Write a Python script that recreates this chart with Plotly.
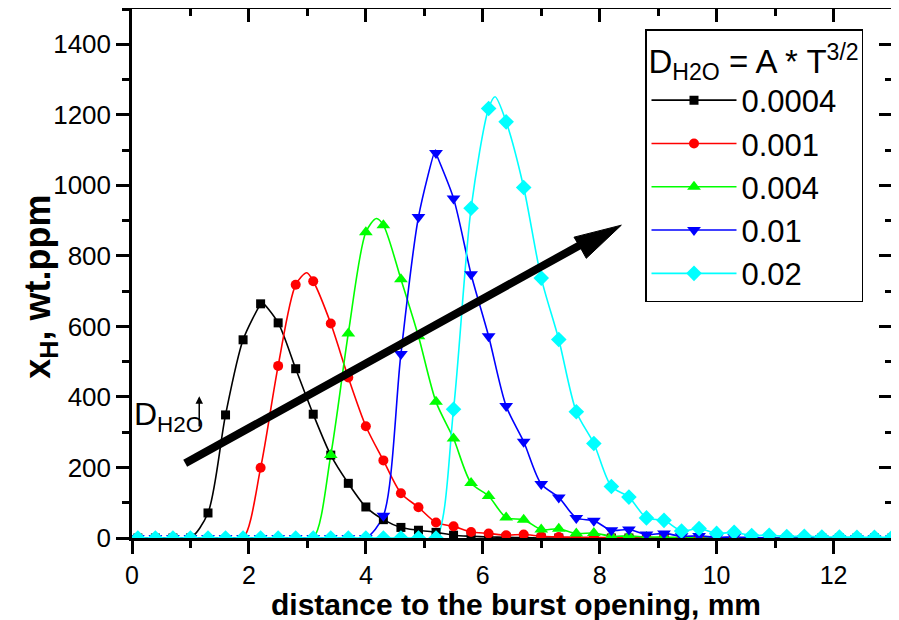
import plotly.graph_objects as go

# ---- data ----
x_grid = [0.1, 0.4, 0.7, 1.0, 1.3, 1.6, 1.9, 2.2, 2.5, 2.8, 3.1, 3.4, 3.7, 4.0, 4.3,
          4.6, 4.9, 5.2, 5.5, 5.8, 6.1, 6.4, 6.7, 7.0, 7.3, 7.6, 7.9, 8.2, 8.5, 8.8,
          9.1, 9.4, 9.7, 10.0, 10.3, 10.6, 10.9, 11.2, 11.5, 11.8, 12.1, 12.4, 12.7, 13.0]

y_00004 = [0, 0, 0, 0, 71, 349, 562, 664, 610, 480, 351, 235, 155, 88, 52,
           30, 22, 16, 8, 5, 3, 2, 1, 0, 0, 0, 0, 0, 0, 0,
           0, 0, 0, 0, 0, 0, 0, 0, 0, 0, 0, 0, 0, 0]
y_0001 = [0, 0, 0, 0, 0, 0, 0, 199, 488, 718, 728, 608, 455, 317, 220,
          127, 87, 44, 33, 17, 13, 8, 10, 5, 3, 2, 2, 1, 0, 0,
          0, 0, 0, 0, 0, 0, 0, 0, 0, 0, 0, 0, 0, 0]
y_0004 = [0, 0, 0, 0, 0, 0, 0, 0, 0, 0, 0, 235, 580, 867, 887,
          734, 572, 386, 282, 156, 119, 58, 52, 24, 26, 13, 14, 5, 6, 3,
          3, 1, 0, 0, 0, 0, 0, 0, 0, 0, 0, 0, 0, 0]
y_001 = [0, 0, 0, 0, 0, 0, 0, 0, 0, 0, 0, 0, 0, 0, 63,
         522, 910, 1092, 963, 748, 572, 374, 273, 153, 115, 57, 49, 22, 24, 10,
         13, 5, 6, 2, 3, 1, 0, 0, 0, 0, 0, 0, 0, 0]
y_002 = [0, 0, 0, 0, 0, 0, 0, 0, 0, 0, 0, 0, 0, 0, 0,
         0, 0, 0, 365, 935, 1218, 1180, 994, 737, 563, 358, 268, 146, 116, 57,
         50, 20, 27, 13, 16, 7, 8, 4, 5, 3, 3, 2, 2, 2]

# curve maxima (between symbols)
peak_x = [2.22, 2.99, 4.18, 5.19, 6.21]
peak_y = [668, 752, 906, 1100, 1251]

series_names = ["0.0004", "0.001", "0.004", "0.01", "0.02"]
series_y = [y_00004, y_0001, y_0004, y_001, y_002]
colors = ["#000000", "#ff0000", "#00ff00", "#0000ff", "#00ffff"]
symbols = ["square", "circle", "triangle-up", "triangle-down", "diamond"]
msizes = [9, 10, 12, 12, 12]

x_ticks = [0, 2, 4, 6, 8, 10, 12]
y_ticks = [0, 200, 400, 600, 800, 1000, 1200, 1400]

FONT = "Liberation Sans, Arial, sans-serif"

fig = go.Figure()

for name, ys, c, s, ms, px, py in zip(series_names, series_y, colors, symbols, msizes, peak_x, peak_y):
    pts = sorted(list(zip(x_grid, ys)) + [(px, py)])
    fig.add_trace(go.Scatter(x=[p[0] for p in pts], y=[p[1] for p in pts], mode="lines",
                             line=dict(color=c, width=1.6, shape="spline", smoothing=0.8),
                             showlegend=False, hoverinfo="skip"))
for name, ys, c, s, ms in zip(series_names, series_y, colors, symbols, msizes):
    fig.add_trace(go.Scatter(x=x_grid, y=ys, mode="markers",
                             marker=dict(color=c, symbol=s, size=ms, line=dict(width=0)),
                             showlegend=False, cliponaxis=True))
for name, c, s, ms in zip(series_names, colors, symbols, msizes):
    fig.add_trace(go.Scatter(x=[None], y=[None], mode="lines+markers", name=name,
                             line=dict(color=c, width=1.6),
                             marker=dict(color=c, symbol=s, size=ms, line=dict(width=0))))

# dummy trace to show mirrored (inward) axes on top/right
fig.add_trace(go.Scatter(x=[None], y=[None], xaxis="x2", yaxis="y2", showlegend=False))

# big arrow
fig.add_shape(type="line", x0=0.91, y0=212, x1=7.66, y1=830, xref="x", yref="y",
              line=dict(color="black", width=8))
fig.add_shape(type="path", xref="x", yref="y",
              path="M 8.37 887 L 7.56 853 L 7.66 826 L 7.77 793 Z",
              fillcolor="black", line=dict(color="black", width=1))

# D_H2O label with small arrow
fig.add_annotation(x=0.0, y=345, xref="x", yref="y", xanchor="left", yanchor="middle",
                   text="D<sub>H2O</sub>", showarrow=False,
                   font=dict(family=FONT, size=32, color="black"))
fig.add_annotation(x=1.15, y=402, ax=1.15, ay=312, xref="x", yref="y", axref="x", ayref="y",
                   text="", showarrow=True, arrowhead=2, arrowwidth=1.5, arrowsize=1,
                   arrowcolor="black")

# axis titles as annotations (positioned like the reference)
fig.add_annotation(x=-0.121, y=0.475, xref="paper", yref="paper", xanchor="center", yanchor="middle",
                   text="<b>x<sub>H</sub>, wt.ppm</b>", textangle=-90, showarrow=False,
                   font=dict(family=FONT, size=36, color="black"))
fig.add_annotation(x=0.505, y=-0.125, xref="paper", yref="paper", xanchor="center", yanchor="middle",
                   text="<b>distance to the burst opening, mm</b>", showarrow=False,
                   font=dict(family=FONT, size=30, color="black"))

axis_common = dict(showgrid=False, zeroline=False, showline=True, linecolor="black",
                   linewidth=2.5, tickcolor="black", tickwidth=2.5, automargin=False)

# the page body adds an 8px offset; figure size/margins compensate for it
fig.update_layout(
    width=891, height=612,
    margin=dict(l=124, r=7, t=1, b=82),
    plot_bgcolor="white", paper_bgcolor="white",
    font=dict(family=FONT, color="black"),
    xaxis=dict(range=[0, 13], tickvals=x_ticks, ticks="outside", ticklen=13,
               minor=dict(dtick=1, tick0=0, ticks="outside", ticklen=7, tickwidth=2.5, tickcolor="black"),
               tickfont=dict(size=25, family=FONT),
               **axis_common),
    yaxis=dict(range=[0, 1500], tickvals=y_ticks, ticks="outside", ticklen=13,
               minor=dict(dtick=100, tick0=0, ticks="outside", ticklen=7, tickwidth=2.5, tickcolor="black"),
               tickfont=dict(size=26, family=FONT),
               **axis_common),
    xaxis2=dict(overlaying="x", side="top", range=[0, 13], tickvals=x_ticks, ticks="inside",
                ticklen=13, showticklabels=False,
                minor=dict(dtick=1, tick0=0, ticks="inside", ticklen=7, tickwidth=2.5, tickcolor="black"),
                **axis_common),
    yaxis2=dict(overlaying="y", side="right", range=[0, 1500], tickvals=y_ticks, ticks="inside",
                ticklen=13, showticklabels=False,
                minor=dict(dtick=100, tick0=0, ticks="inside", ticklen=7, tickwidth=2.5, tickcolor="black"),
                **axis_common),
    legend=dict(x=0.675, y=0.962, xanchor="left", yanchor="top",
                bgcolor="white", bordercolor="black", borderwidth=1.5,
                font=dict(size=31, family=FONT),
                title=dict(text="D<sub>H2O</sub> = A * T<sup>3/2</sup>", font=dict(size=33, family=FONT)),
                tracegroupgap=0, itemwidth=85),
)

fig.write_html("out.html")
